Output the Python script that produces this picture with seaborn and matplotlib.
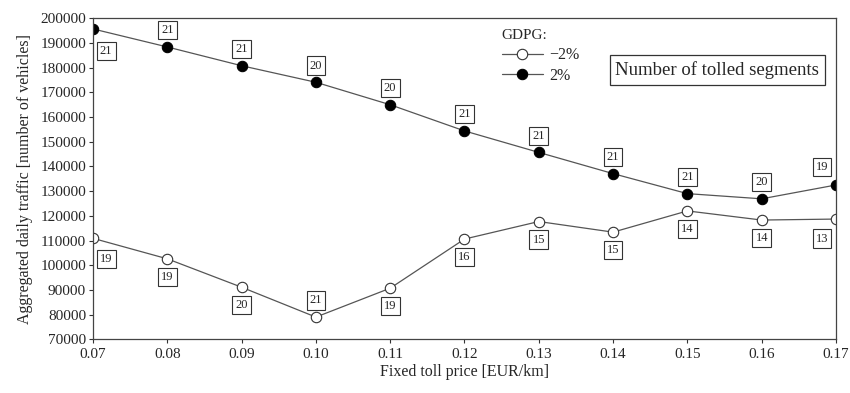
import matplotlib
matplotlib.use("Agg")
import matplotlib.pyplot as plt
import seaborn as sns
import pandas as pd

price = [0.07, 0.08, 0.09, 0.10, 0.11, 0.12, 0.13, 0.14, 0.15, 0.16, 0.17]
traffic_neg = [110900, 102600, 91100, 79000, 90700, 110600, 117700, 113400, 122000, 118300, 118700]
traffic_pos = [195700, 188400, 180800, 174100, 165000, 154400, 145700, 137100, 129000, 126900, 132500]
seg_neg = [19, 19, 20, 21, 19, 16, 15, 15, 14, 14, 13]
seg_pos = [21, 21, 21, 20, 20, 21, 21, 21, 21, 20, 19]

df_neg = pd.DataFrame({"price": price, "traffic": traffic_neg, "seg": seg_neg})
df_pos = pd.DataFrame({"price": price, "traffic": traffic_pos, "seg": seg_pos})

sns.set_style("ticks")
plt.rcParams["font.family"] = ["Liberation Serif", "DejaVu Serif"]

fig = plt.figure(figsize=(8.5, 3.93), dpi=100)
ax = fig.add_axes([0.1094, 0.1366, 0.8741, 0.8168])

line_col = "#555555"
sns.lineplot(data=df_neg, x="price", y="traffic", ax=ax, color=line_col, lw=0.9,
             marker="o", markersize=7.5, markerfacecolor="white", markeredgecolor="#333333",
             markeredgewidth=0.8, label="\u22122%")
sns.lineplot(data=df_pos, x="price", y="traffic", ax=ax, color=line_col, lw=0.9,
             marker="o", markersize=7.5, markerfacecolor="black", markeredgecolor="black",
             label="2%")

box = dict(boxstyle="square,pad=0.25", fc="white", ec="#333333", lw=0.8)


def put_labels(xs, ys, segs, above, first_off, last_off):
    n = len(xs)
    for i in range(n):
        if i == 0:
            off = first_off
        elif i == n - 1:
            off = last_off
        else:
            off = (0, 12 if above(i) else -13)
        ax.annotate(str(segs[i]), (xs[i], ys[i]), xytext=off,
                    textcoords="offset points", ha="center", va="center",
                    fontsize=9, bbox=box, zorder=5)


put_labels(price, traffic_pos, seg_pos, lambda i: True, (9.5, -16), (-10, 13))
put_labels(price, traffic_neg, seg_neg, lambda i: i == 3, (9.5, -15), (-10, -14))

ax.set_xlim(0.07, 0.17)
ax.set_ylim(70000, 200000)
ax.set_xticks(price)
ax.set_xticklabels([f"{p:.2f}" for p in price])
ax.set_yticks(range(70000, 200001, 10000))
ax.tick_params(axis="both", direction="out", length=3, width=0.8, labelsize=11, color="#333333")
ax.tick_params(axis="y", pad=2)
for s in ax.spines.values():
    s.set_color("#444444")
    s.set_linewidth(0.9)

ax.set_xlabel("Fixed toll price [EUR/km]", fontsize=11.5, labelpad=2)
ax.set_ylabel("Aggregated daily traffic [number of vehicles]", fontsize=11.5, labelpad=5)

leg = ax.legend(title="GDPG:", frameon=False, loc="upper left", bbox_to_anchor=(0.535, 1.0),
                fontsize=11.5, title_fontsize=11, handlelength=2.6, borderaxespad=0.3,
                labelspacing=0.3, handletextpad=0.4)
leg._legend_box.align = "left"

ax.text(0.840, 0.839, "Number of tolled segments", transform=ax.transAxes, ha="center",
        va="center", fontsize=13.5,
        bbox=dict(boxstyle="square,pad=0.3", fc="white", ec="#333333", lw=0.9))

fig.savefig("out.png", dpi=100)
